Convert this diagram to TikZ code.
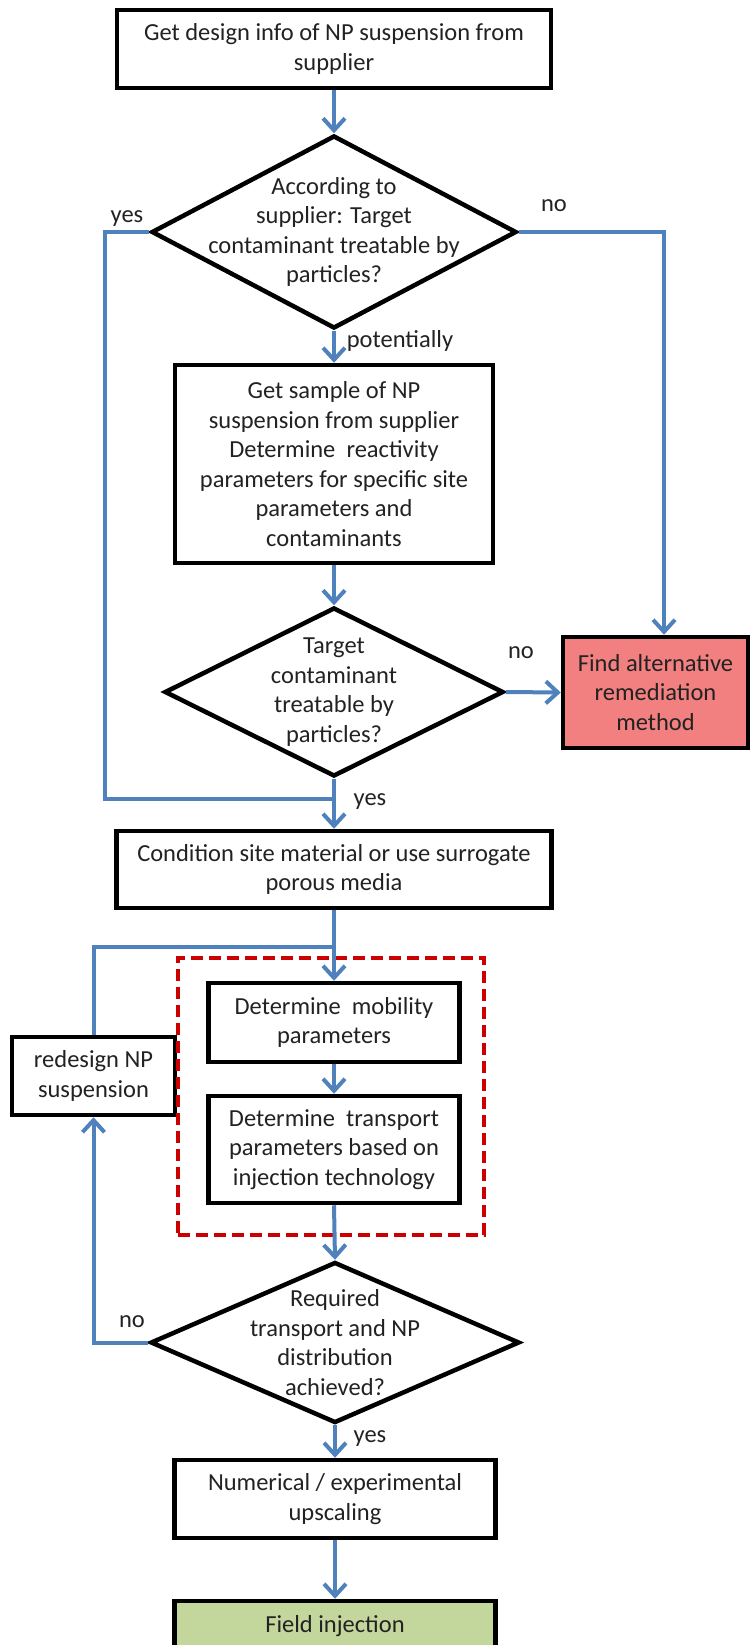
\documentclass[tikz,border=0pt]{standalone}
\usepackage{fontspec}
\setmainfont{Carlito}
\usetikzlibrary{shapes.geometric,arrows.meta,calc}
\definecolor{flowblue}{HTML}{4F81BD}
\definecolor{alertfill}{HTML}{F28080}
\definecolor{okfill}{HTML}{C3D69B}
\definecolor{dashred}{HTML}{CC0000}
\definecolor{ink}{HTML}{222222}
\begin{document}
\begin{tikzpicture}[x=1pt,y=-1pt,
  font=\fontsize{24.5}{29.5}\selectfont,
  box/.style={draw=black, line width=4.5pt, fill=white, align=center, inner sep=0pt, text=ink},
  diam/.style={draw=black, line width=4.5pt, diamond, inner sep=0pt, fill=white},
  dtext/.style={align=center, inner sep=0pt, text=ink},
  flow/.style={draw=flowblue, line width=4pt},
  arr/.style={flow, -{Straight Barb[length=12pt,width=22pt,line width=4pt]}},
  lbl/.style={anchor=base, inner sep=0pt, text=ink}]
\clip (0,0) rectangle (752,1645);
\fill[white] (0,0) rectangle (752,1645);

% nodes
\node[box, minimum width=434, minimum height=78] (b1) at (334,49) {Get design info of NP suspension from\\supplier};
\node[diam, minimum width=365, minimum height=193] (d1) at (334,232) {};
\node[dtext] (d1t) at (d1) {According to\\supplier: Target\\contaminant treatable by\\particles?};
\node[box, minimum width=318, minimum height=198] (b2) at (334,464) {Get sample of NP\\suspension from supplier\\Determine\ \ reactivity\\parameters for specific site\\parameters and\\contaminants};
\node[diam, minimum width=339, minimum height=169] (d2) at (334,692) {};
\node[dtext] (d2t) at (d2) {Target\\contaminant\\treatable by\\particles?};
\node[box, fill=alertfill, minimum width=185, minimum height=111] (rb) at (655.5,692.5) {Find alternative\\remediation\\method};
\node[box, minimum width=435, minimum height=77] (b3) at (334,869.5) {Condition site material or use surrogate\\porous media};
\node[box, minimum width=163, minimum height=78] (rd) at (93.5,1076) {redesign NP\\suspension};
\node[draw=dashred, line width=4pt, dash pattern=on 12pt off 6pt, minimum width=306, minimum height=277, inner sep=0pt] (zone) at (331,1096.5) {};
\node[box, minimum width=251, minimum height=79] (b4) at (334,1022.5) {Determine\ \ mobility\\parameters};
\node[box, minimum width=251, minimum height=107] (b5) at (334,1149.5) {Determine\ \ transport\\parameters based on\\injection technology};
\node[diam, minimum width=369, minimum height=161] (d3) at (335,1342.5) {};
\node[dtext] (d3t) at (d3) {Required\\transport and NP\\distribution\\achieved?};
\node[box, minimum width=321, minimum height=78] (b6) at (335,1499) {Numerical / experimental\\upscaling};
\node[box, fill=okfill, minimum width=321, minimum height=50] (b7) at (335,1626) {Field injection};

% helper coordinates
\coordinate (yl) at (105,799);
\coordinate (j1) at (334,799);
\coordinate (rbin) at ([xshift=8.5pt]rb.north);
\coordinate (j2) at (334,947);

% connectors
\draw[arr] (b1.south) -- (d1.north);
\draw[flow] (d1.west) -| (yl) -- (j1);
\draw[arr] (d1.east) -| (rbin);
\draw[arr] (d1.south) -- (b2.north);
\draw[arr] (b2.south) -- (d2.north);
\draw[arr] (d2.east) -- (rb.west);
\draw[arr] (d2.south) -- (b3.north);
\draw[arr] (b3.south) -- (b4.north);
\draw[flow] (rd.north) |- (j2);
\draw[arr] (b4.south) -- (b5.north);
\draw[arr] (b5.south) -- (d3.north);
\draw[arr] (d3.west) -| (rd.south);
\draw[arr] (d3.south) -- (b6.north);
\draw[arr] (b6.south) -- (b7.north);

% labels
\node[lbl] (l1) at (127,223) {yes};
\node[lbl] (l2) at (554,212) {no};
\node[lbl] (l3) at (400,347) {potentially};
\node[lbl] (l4) at (521,658) {no};
\node[lbl] (l5) at (370,805) {yes};
\node[lbl] (l6) at (132,1327) {no};
\node[lbl] (l7) at (370,1442) {yes};
\end{tikzpicture}
\end{document}
